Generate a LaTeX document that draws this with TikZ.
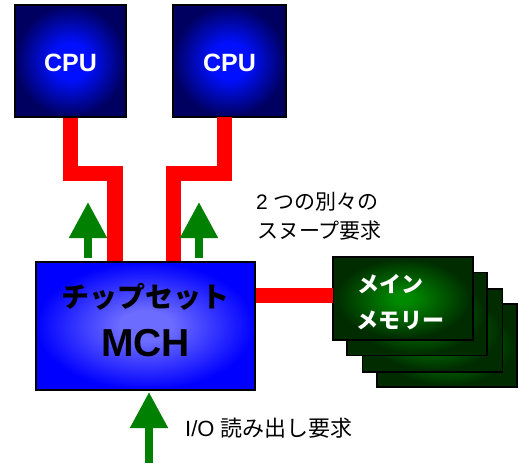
\documentclass[tikz,border=0pt]{standalone}
\usepackage{fontspec}
\setmainfont{Liberation Sans}
\newfontfamily\jp{Noto Sans CJK JP}
\usetikzlibrary{arrows.meta}
\definecolor{cpuin}{HTML}{0010FF}
\definecolor{cpuout}{HTML}{000060}
\definecolor{mchin}{HTML}{6C6CFF}
\definecolor{mchout}{HTML}{0000FF}
\definecolor{memin}{HTML}{008A00}
\definecolor{memout}{HTML}{002C00}
\definecolor{busred}{HTML}{FF0000}
\definecolor{arrgreen}{HTML}{008000}
\pgfdeclareradialshading{cpushade}{\pgfpoint{0bp}{0bp}}{color(0bp)=(cpuin); color(8bp)=(cpuin); color(25bp)=(cpuout); color(50bp)=(cpuout)}
\pgfdeclareradialshading{mchshade}{\pgfpoint{0bp}{0bp}}{color(0bp)=(mchin); color(6bp)=(mchin); color(25bp)=(mchout); color(50bp)=(mchout)}
\pgfdeclareradialshading{memshade}{\pgfpoint{0bp}{0bp}}{color(0bp)=(memin); color(3bp)=(memin); color(24bp)=(memout); color(50bp)=(memout)}
\tikzset{
  cpubox/.style={draw=black, line width=1.6pt, shade, shading=cpushade,
     minimum width=111pt, minimum height=112pt, inner sep=0pt},
  mchbox/.style={draw=black, line width=1.6pt, shade, shading=mchshade,
     minimum width=219pt, minimum height=128pt, inner sep=0pt},
  membox/.style={draw=black, line width=1.4pt, shade, shading=memshade,
     minimum width=140pt, minimum height=83pt, inner sep=0pt},
  bus/.style={draw=busred, line width=15.5pt, line join=miter, line cap=butt},
  uparrow/.style={draw=arrgreen, line width=8pt,
     -{Triangle[width=36pt, length=36pt, fill=arrgreen]}},
  lbl/.style={inner sep=0pt, font=\fontsize{21}{25}\selectfont},
}
\begin{document}
\begin{tikzpicture}[x=1pt, y=-1pt]
\useasboundingbox (0,0) rectangle (519,465);
% CPUs
\node[cpubox] (cpu1) at (70.5,61) {};
\node[text=white, font=\bfseries\fontsize{25}{30}\selectfont] (cpu1t) at (70.5,63) {CPU};
\node[cpubox, minimum width=113pt] (cpu2) at (229.5,61) {};
\node[text=white, font=\bfseries\fontsize{25}{30}\selectfont] (cpu2t) at (229.5,63) {CPU};
% MCH
\node[mchbox] (mch) at (145.5,326) {};
\node[font=\jp\bfseries\fontsize{28}{32}\selectfont] (mcht1) at (145.5,297) {チップセット};
\node[font=\bfseries\fontsize{39}{44}\selectfont] (mcht2) at (145.5,343) {MCH};
% memory stack
\node[membox] (mem4) at (447,345.5) {};
\node[membox] (mem3) at (432.5,330.5) {};
\node[membox] (mem2) at (417,314) {};
\node[membox] (mem1) at (403,298.5) {};
\node[anchor=west, text=white, inner sep=0pt, font=\jp\bfseries\fontsize{22}{26}\selectfont] (memt1) at (357,284) {メイン};
\node[anchor=west, text=white, inner sep=0pt, font=\jp\bfseries\fontsize{22}{26}\selectfont] (memt2) at (356,320) {メモリー};
% buses
\coordinate (b1a) at (70.5,173.5);
\coordinate (b1b) at (115,173.5);
\coordinate (b2s) at (224.5,117);
\coordinate (b2a) at (224.5,173.5);
\coordinate (b2b) at (173.5,173.5);
\draw[bus] (cpu1.south) -- (b1a) -- (b1b) -- (b1b |- mch.north);
\draw[bus] (b2s) -- (b2a) -- (b2b) -- (b2b |- mch.north);
\draw[bus] (mem1.west -| mch.east) ++(0,-3) -- ++(77.5,0) coordinate (memin);
% green arrows
\coordinate (g1s) at (88,258);
\coordinate (g1e) at (88,202);
\coordinate (g2s) at (199,258);
\coordinate (g2e) at (199,202);
\coordinate (g3s) at (149,463);
\coordinate (g3e) at (149,392);
\draw[uparrow] (g1s) -- (g1e);
\draw[uparrow] (g2s) -- (g2e);
\draw[uparrow] (g3s) -- (g3e);
% labels
\node[lbl, anchor=west] (snoop1) at (256,202) {2 {\jp つの別々の}};
\node[lbl, anchor=west] (snoop2) at (257,231) {\jp スヌープ要求};
\node[lbl, anchor=west, font=\fontsize{22}{26}\selectfont] (io) at (185,428) {I/O {\jp 読み出し要求}};
\end{tikzpicture}
\end{document}
